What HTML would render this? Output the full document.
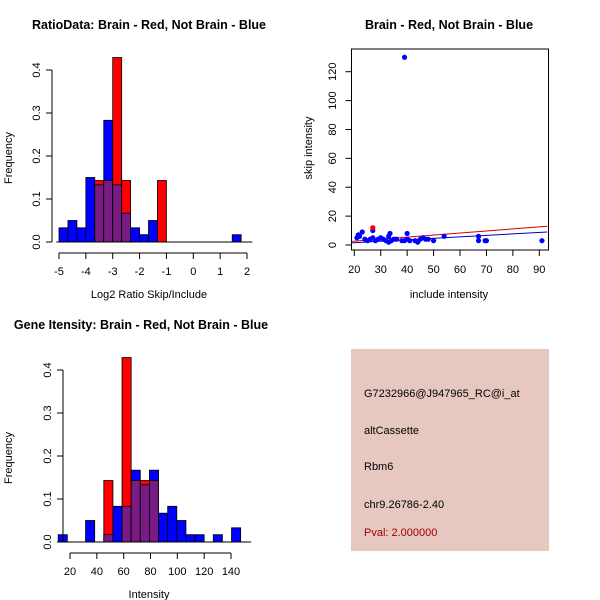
<!DOCTYPE html>
<html><head><meta charset="utf-8"><style>
body{margin:0;background:#fff}
svg{display:block;font-family:"Liberation Sans",sans-serif}
</style></head><body>
<svg id="c" width="600" height="600" viewBox="0 0 600 600" xmlns="http://www.w3.org/2000/svg">
<text x="149" y="29" text-anchor="middle" font-weight="bold" font-size="12.5">RatioData: Brain - Red, Not Brain - Blue</text>
<text x="449" y="29" text-anchor="middle" font-weight="bold" font-size="12.5">Brain - Red, Not Brain - Blue</text>
<text x="141" y="329" text-anchor="middle" font-weight="bold" font-size="12.5">Gene Itensity: Brain - Red, Not Brain - Blue</text>
<text x="149" y="298" text-anchor="middle" font-size="11">Log2 Ratio Skip/Include</text>
<text x="12" y="158" text-anchor="middle" font-size="11" transform="rotate(-90 12 158)">Frequency</text>
<text x="149" y="598" text-anchor="middle" font-size="11">Intensity</text>
<text x="12" y="458" text-anchor="middle" font-size="11" transform="rotate(-90 12 458)">Frequency</text>
<text x="449" y="298" text-anchor="middle" font-size="11">include intensity</text>
<text x="312" y="148" text-anchor="middle" font-size="11" transform="rotate(-90 312 148)">skip intensity</text>
<g>
<rect x="351" y="349" width="198" height="202" fill="#e6c8c0"/>
<text x="364" y="397" font-size="11">G7232966@J947965_RC@i_at</text>
<text x="364" y="434" font-size="11">altCassette</text>
<text x="364" y="470" font-size="11">Rbm6</text>
<text x="364" y="508" font-size="11">chr9.26786-2.40</text>
<text x="364" y="536" font-size="11" fill="#a00000">Pval: 2.000000</text>
</g>
<g id="g1"></g><g id="g2"></g><g id="g3"></g>
</svg>
<script>
// Ratio histogram data (bin starts, width 1/3)
const ratioBins = [-5,-4.667,-4.333,-4,-3.667,-3.333,-3,-2.667,-2.333,-2,-1.667,-1.333,1.45];
const ratioBlue = [0.033,0.05,0.033,0.15,0.133,0.283,0.133,0.067,0.033,0.017,0.05,0,0.017];
const ratioRed  = [0,0,0,0,0.143,0.143,0.429,0.143,0,0,0,0.143,0];
const ratioXTicks = [-5,-4,-3,-2,-1,0,1,2];
const freqTicks = [0,0.1,0.2,0.3,0.4];
// Intensity histogram data (bin starts, width 6.8)
const intBins = [11.2,18,24.8,31.6,38.4,45.2,52,58.8,65.6,72.4,79.2,86,92.8,99.6,106.4,113.2,120,126.8,133.6,140.4];
const intBlue = [0.017,0,0,0.05,0,0.017,0.083,0.083,0.167,0.133,0.167,0.067,0.083,0.05,0.017,0.017,0,0.017,0,0.033];
const intRed  = [0,0,0,0,0,0.143,0,0.429,0.143,0.143,0.143,0,0,0,0,0,0,0,0,0];
const intXTicks = [20,40,60,80,100,120,140];
// Scatter data
const incBlue = [21,21.5,22,23,24,25,26,27,27,28,29,30,31,32,33,33,33.5,34,35,36,38,39,39,40,40,41,43,44,45,46,47,48,50,54,67,67,69.5,70,91];
const skipBlue = [5,7,6,9,4,3,4,10,5,3,4,5,4,3,2,6,8,3,4,4,3,130,3,4,8,3,3,2,4,5,4,4,3,6,6,3,3,3,3];
const incRed = [27];
const skipRed = [12];
const redFit = [[19,2.5],[93,13]];
const blueFit = [[19,1.5],[93,9]];
const scXTicks = [20,30,40,50,60,70,80,90];
const scYTicks = [0,20,40,60,80,100,120];

const NS="http://www.w3.org/2000/svg";
function mk(p,t,a){const e=document.createElementNS(NS,t);for(const k in a)e.setAttribute(k,a[k]);p.appendChild(e);return e;}

function hist(g,bins,w,blue,red,xmin,xmax,px0,px1,y0,ticks,xlo,xhi,name){
  const sx=v=>px0+(v-xmin)/(xmax-xmin)*(px1-px0);
  const sy=v=>y0-v*430;
  for(let i=0;i<bins.length;i++){
    const x=sx(bins[i]),ww=sx(bins[i]+w)-x;
    const b=blue[i],r=red[i];
    if(b>0){const e=mk(g,'rect',{x:x,y:sy(b),width:ww,height:sy(0)-sy(b),fill:'#0000ff',stroke:'#000','stroke-width':0.8});
      
      }
    if(r>0){const e=mk(g,'rect',{x:x,y:sy(r),width:ww,height:sy(0)-sy(r),fill:'#ff0000',stroke:'#000','stroke-width':0.8});
      
      }
    const m=Math.min(b,r);
    if(m>0){const e=mk(g,'rect',{x:x,y:sy(m),width:ww,height:sy(0)-sy(m),fill:'#7a1a84',stroke:'#000','stroke-width':0.8});
      
      }
  }
  const bl=mk(g,'line',{x1:sx(xlo),x2:sx(xhi),y1:y0,y2:y0,stroke:'#000'});
  
  
  const ax=mk(g,'line',{x1:sx(ticks[0]),x2:sx(ticks[ticks.length-1]),y1:y0+11,y2:y0+11,stroke:'#000'});
  
  
  ticks.forEach(t=>{mk(g,'line',{x1:sx(t),x2:sx(t),y1:y0+11,y2:y0+17,stroke:'#000'});
    const tx=mk(g,'text',{x:sx(t),y:y0+33,'text-anchor':'middle','font-size':11});tx.textContent=t;
    
    });
  const yx=px0-7;
  const ya=mk(g,'line',{x1:yx,x2:yx,y1:sy(0),y2:sy(0.4),stroke:'#000'});
  
  
  freqTicks.forEach(t=>{mk(g,'line',{x1:yx,x2:yx-6,y1:sy(t),y2:sy(t),stroke:'#000'});
    const tx=mk(g,'text',{x:yx-12,y:sy(t),'text-anchor':'middle','font-size':11,transform:`rotate(-90 ${yx-12} ${sy(t)})`});tx.textContent=t.toFixed(1);
    
    });
}
hist(document.getElementById('g1'),ratioBins,1/3,ratioBlue,ratioRed,-5,2,59,247,242,ratioXTicks,-5.1,2.2,'ratio');
hist(document.getElementById('g2'),intBins,6.8,intBlue,intRed,20,140,70,231,542,intXTicks,11,155,'intensity');

// scatter
(function(){
  const g=document.getElementById('g3');
  const sx=v=>354.3+(v-20)*2.643, sy=v=>245-v*1.444;
  const box=mk(g,'rect',{x:351.5,y:49,width:197,height:201,fill:'none',stroke:'#000'});
  
  
  [[redFit,'#d00000','red-fit-line'],[blueFit,'#0000c0','blue-fit-line']].forEach(([f,c,n])=>{
    const l=mk(g,'line',{x1:Math.max(sx(f[0][0]),352),y1:sy(f[0][1]),x2:Math.min(sx(f[1][0]),548),y2:sy(f[1][1]),stroke:c,'stroke-width':1});
    
    });
  incBlue.forEach((v,i)=>{const p=mk(g,'circle',{cx:sx(v),cy:sy(skipBlue[i]),r:2.6,fill:'#0000ff'});
    
    });
  incRed.forEach((v,i)=>{const p=mk(g,'circle',{cx:sx(v),cy:sy(skipRed[i]),r:2.6,fill:'#ff0000'});
    
    });
  scXTicks.forEach(t=>{mk(g,'line',{x1:sx(t),x2:sx(t),y1:250,y2:256,stroke:'#000'});
    const tx=mk(g,'text',{x:sx(t),y:273,'text-anchor':'middle','font-size':11});tx.textContent=t;
    
    });
  scYTicks.forEach(t=>{mk(g,'line',{x1:351.5,x2:345.5,y1:sy(t),y2:sy(t),stroke:'#000'});
    const tx=mk(g,'text',{x:336,y:sy(t),'text-anchor':'middle','font-size':11,transform:`rotate(-90 336 ${sy(t)})`});tx.textContent=t;
    
    });
})();
</script>
</body></html>
